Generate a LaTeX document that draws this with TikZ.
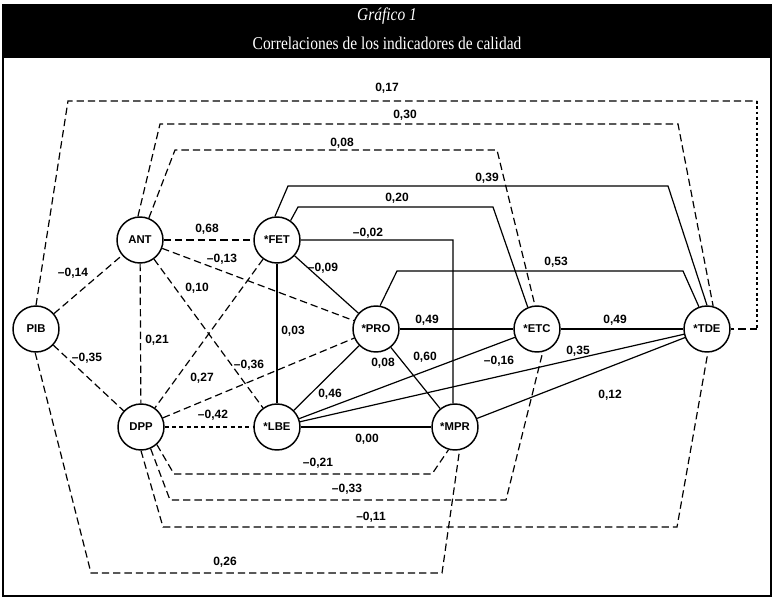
\documentclass[tikz,border=0pt]{standalone}
\usepackage{fontspec}
\setmainfont{Liberation Serif}
\setsansfont{Liberation Sans}
\newfontfamily\titlefont[FakeStretch=0.86]{Liberation Serif}

\begin{document}
\begin{tikzpicture}[
  x=0.75pt, y=-0.75pt,
  var/.style={draw, circle, line width=1.1pt, minimum size=34.5pt, inner sep=0pt, fill=white,
    font=\sffamily\bfseries\fontsize{8.5}{10}\selectfont},
  lbl/.style={font=\sffamily\bfseries\fontsize{9}{10}\selectfont, inner sep=0pt},
  solidlink/.style={line width=0.9pt},
  dashlink/.style={line width=0.9pt, dash pattern=on 5.5pt off 3pt},
  finelink/.style={line width=0.9pt, dash pattern=on 3pt off 2.5pt},
  dotlink/.style={line width=0.9pt, dash pattern=on 2pt off 2pt},
  heading/.style={text=white, inner sep=0pt}
]
\useasboundingbox (0,0) rectangle (775,599);

% frame and title bar
\fill[black] (3,5) rectangle (771,58);
\draw[line width=1.2pt] (3,5) rectangle (771,596);
\node[heading, font=\titlefont\itshape\fontsize{13.5}{15}\selectfont] (title) at (387,16) {Gráfico 1};
\node[heading, font=\titlefont\fontsize{13.5}{15}\selectfont] (subtitle) at (387,43) {Correlaciones de los indicadores de calidad};

% variables
\node[var] (PIB) at (36,329) {PIB};
\node[var] (ANT) at (140,240) {ANT};
\node[var] (FET) at (277,240) {*FET};
\node[var] (PRO) at (376,329) {*PRO};
\node[var] (ETC) at (537,329) {*ETC};
\node[var] (TDE) at (707,329) {*TDE};
\node[var] (DPP) at (141,427) {DPP};
\node[var] (LBE) at (277,427) {*LBE};
\node[var] (MPR) at (455,427) {*MPR};

% dashed links
\draw[dashlink] (PIB) -- (ANT);
\draw[dashlink] (PIB) -- (DPP);
\draw[dashlink] (ANT) -- (FET);
\draw[dashlink] (ANT) -- (PRO);
\draw[dashlink] (ANT) -- (DPP);
\draw[dashlink] (ANT) -- (LBE);
\draw[dashlink] (FET) -- (DPP);
\draw[dashlink] (DPP) -- (PRO);
\draw[finelink] (DPP) -- (LBE);

% solid links
\draw[solidlink] (FET) -- (PRO);
\draw[solidlink] (FET) -- (LBE);
\draw[solidlink] (PRO) -- (ETC);
\draw[solidlink] (ETC) -- (TDE);
\draw[solidlink] (PRO) -- (LBE);
\draw[solidlink] (PRO) -- (MPR);
\draw[solidlink] (LBE) -- (ETC);
\draw[solidlink] (LBE) -- (TDE);
\draw[solidlink] (LBE) -- (MPR);
\draw[solidlink] (MPR) -- (TDE);

% routed links above
\coordinate (k17a) at (757,101);
\coordinate (k17b) at (757,329);
\draw[dashlink] (PIB.90) -- (68,101) -- (k17a);
\draw[dotlink] (k17a) -- (k17b);
\draw[dashlink] (k17b) -- (TDE);
\draw[dashlink] (ANT.95) -- (160,124) -- (678,124) -- (TDE.75);
\draw[dashlink] (ANT.68) -- (175,150) -- (497,150) -- (ETC.95);
\draw[solidlink] (FET.95) -- (288,186) -- (668,186) -- (TDE.90);
\draw[solidlink] (FET.55) -- (298,207) -- (493,207) -- (ETC.113);
\draw[solidlink] (FET.east) -- (453,240) -- (MPR.95);
\draw[solidlink] (PRO.80) -- (397,271) -- (683,271) -- (TDE.110);

% routed links below
\draw[dashlink] (DPP.-48) -- (174,474) -- (432,474) -- (MPR.-106);
\draw[dashlink] (DPP.-66) -- (170,500) -- (506,500) -- (ETC.-76);
\draw[dashlink] (DPP.-90) -- (163,527) -- (677,527) -- (TDE.-88);
\draw[dashlink] (PIB.-92) -- (91,573) -- (442,573) -- (MPR.-79);

% coefficients
\node[lbl] (r17) at (387,88) {0,17};
\node[lbl] (r30) at (405,115) {0,30};
\node[lbl] (r08a) at (342,143) {0,08};
\node[lbl] (r39) at (487,178) {0,39};
\node[lbl] (r20) at (397,198) {0,20};
\node[lbl] (r02) at (368,233) {–0,02};
\node[lbl] (r53) at (556,262) {0,53};
\node[lbl] (r68) at (207,229) {0,68};
\node[lbl] (r13) at (222,259) {–0,13};
\node[lbl] (r09) at (323,268) {–0,09};
\node[lbl] (r14) at (73,273) {–0,14};
\node[lbl] (r10) at (197,288) {0,10};
\node[lbl] (r03) at (293,331) {0,03};
\node[lbl] (r21) at (157,340) {0,21};
\node[lbl] (r35) at (87,358) {–0,35};
\node[lbl] (r36) at (249,365) {–0,36};
\node[lbl] (r27) at (202,378) {0,27};
\node[lbl] (r08b) at (383,363) {0,08};
\node[lbl] (r60) at (425,357) {0,60};
\node[lbl] (r46) at (330,394) {0,46};
\node[lbl] (r42) at (213,415) {–0,42};
\node[lbl] (r00) at (367,439) {0,00};
\node[lbl] (r49a) at (427,320) {0,49};
\node[lbl] (r49b) at (615,320) {0,49};
\node[lbl] (r16) at (499,361) {–0,16};
\node[lbl] (r35b) at (578,351) {0,35};
\node[lbl] (r12) at (610,395) {0,12};
\node[lbl] (r21b) at (318,463) {–0,21};
\node[lbl] (r33) at (347,489) {–0,33};
\node[lbl] (r11) at (371,517) {–0,11};
\node[lbl] (r26) at (225,562) {0,26};

\end{tikzpicture}
\end{document}
